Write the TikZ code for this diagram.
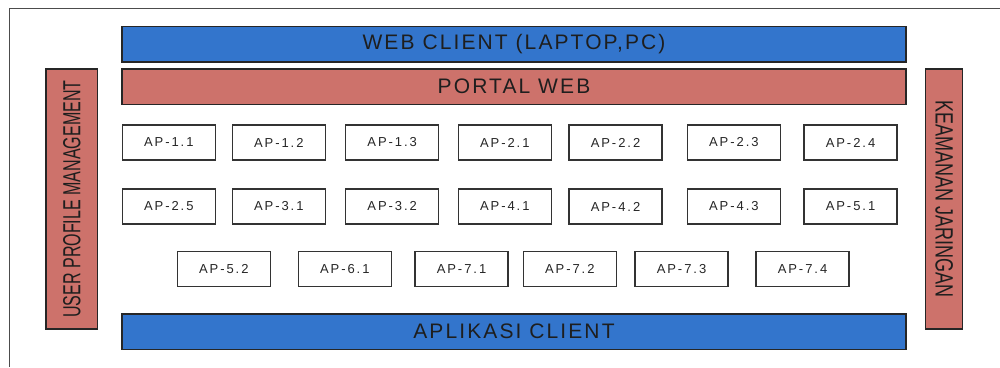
\documentclass[tikz,border=0pt]{standalone}
\usepackage{fontspec}
\setmainfont{Liberation Sans}
\newfontfamily\bandfamily[LetterSpace=10]{Liberation Sans}
\newfontfamily\apfamily[LetterSpace=15]{Liberation Sans}
\newfontfamily\sideLfamily[FakeStretch=0.65]{Liberation Sans}
\newfontfamily\sideRfamily[FakeStretch=0.72]{Liberation Sans}
\newcommand\bandfont{\bandfamily\fontsize{21}{21}\selectfont}
\newcommand\apfont{\apfamily\fontsize{13}{13}\selectfont}
\newcommand\sideLfont{\sideLfamily\fontsize{24.7}{25}\selectfont}
\newcommand\sideRfont{\sideRfamily\fontsize{25}{25}\selectfont}
\definecolor{bandblue}{RGB}{51,117,204}
\definecolor{bandred}{RGB}{205,114,107}
\definecolor{inkdark}{RGB}{30,30,30}
\tikzset{
  frameline/.style={draw=black!70, line width=1.4pt},
  band/.style={draw=black!85, line width=1.3pt, inner sep=0pt, anchor=center, text=inkdark},
  blueband/.style={band, fill=bandblue, minimum width=784pt, minimum height=35.5pt, font=\bandfont},
  redband/.style={band, fill=bandred},
  apbox/.style={draw=black!80, line width=1.2pt, fill=white, inner sep=0pt, anchor=center,
    minimum width=93pt, minimum height=35pt, text=black!85, font=\apfont}
}
\begin{document}
\begin{tikzpicture}[x=1pt, y=-1pt]
  \useasboundingbox (0,0) rectangle (1000,367);
  % outer frame, open to the right and bottom
  \draw[frameline] (1000,8.5) -| (9.5,367);

  % horizontal layers
  \node[blueband] (web) at (514,44.25) {WEB CLIENT (LAPTOP,PC)};
  \node[redband, minimum width=784pt, minimum height=35.5pt, font=\bandfont] (portal) at (514,86.75) {PORTAL WEB};
  \node[blueband, minimum height=35.3pt] (client) at (514,331.65) {APLIKASI CLIENT};

  % vertical side layers
  \node[redband, rotate=90, minimum width=260pt, minimum height=51.5pt, font=\sideLfont] (upm) at (71.75,199) {USER PROFILE MANAGEMENT};
  \node[redband, rotate=-90, minimum width=260pt, minimum height=37pt, font=\sideRfont] (sec) at (944.2,199) {KEAMANAN JARINGAN};

  % application modules, first row
  \foreach \x/\n in {122.3/1.1, 232.3/1.2, 345.7/1.3, 458.3/2.1, 569/2.2, 687.3/2.3, 804/2.4}
    \node[apbox] (ap\n) at (\x+46.5,142.5) {AP-\n};
  % second row
  \foreach \x/\n in {122.3/2.5, 232.3/3.1, 345.7/3.2, 458.3/4.1, 569/4.2, 687.3/4.3, 804/5.1}
    \node[apbox] (ap\n) at (\x+46.5,206.5) {AP-\n};
  % third row
  \foreach \x/\n in {177.3/5.2, 298.3/6.1, 415/7.1, 523.3/7.2, 635/7.3, 756/7.4}
    \node[apbox] (ap\n) at (\x+46.5,268.75) {AP-\n};
\end{tikzpicture}
\end{document}
